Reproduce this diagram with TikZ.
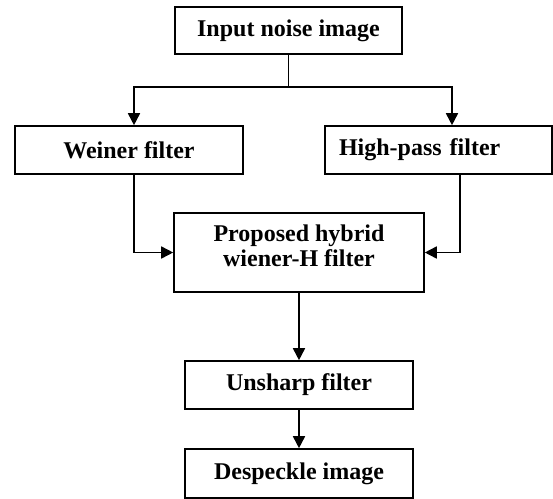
\documentclass[tikz,border=0pt]{standalone}
\usepackage{fontspec}
\setmainfont{Liberation Serif}
\usepackage{tikz}
\usetikzlibrary{arrows.meta}

\begin{document}
\begin{tikzpicture}[x=0.5pt,y=-0.5pt,line width=0.8pt,
   >={Triangle[length=6pt,width=6pt]},
   texte/.style={font=\bfseries\fontsize{12}{12.5}\selectfont,align=center},
   boite/.style={draw,texte,inner sep=0pt,minimum height=24pt,minimum width=114pt}]

  \useasboundingbox (0,0) rectangle (553,499);

  \node[boite,minimum height=23.5pt,minimum width=113.5pt] (entree) at (288.5,30.5) {Input noise image};
  \node[boite] (wiener) at (129,150) {Weiner filter};
  \node[boite,minimum width=113.5pt,inner xsep=7pt,text width=99.5pt,align=left] (passehaut) at (438.5,150) {High-pass filter};
  \node[boite,minimum width=125pt,minimum height=39.5pt,
     label={[texte,yshift=3.5pt]center:{Proposed hybrid\\wiener-H filter}}] (hybride) at (299,252.5) {};
  \node[boite] (unsharp) at (299,385) {Unsharp filter};
  \node[boite,minimum height=24.5pt] (despeckle) at (299,473.5) {Despeckle image};

  \draw (entree.south) -- (entree.south |- 0,87) coordinate (fourche);
  \draw[->] (fourche) -| ([xshift=2.5pt]wiener.north);
  \draw[->] (fourche) -| ([xshift=6.75pt]passehaut.north);
  \draw[->] ([xshift=2.5pt]wiener.south) |- (hybride);
  \draw[->] ([xshift=10.75pt]passehaut.south) |- (hybride);
  \draw[->] (hybride) -- (unsharp);
  \draw[->] (unsharp) -- (despeckle);
\end{tikzpicture}
\end{document}
